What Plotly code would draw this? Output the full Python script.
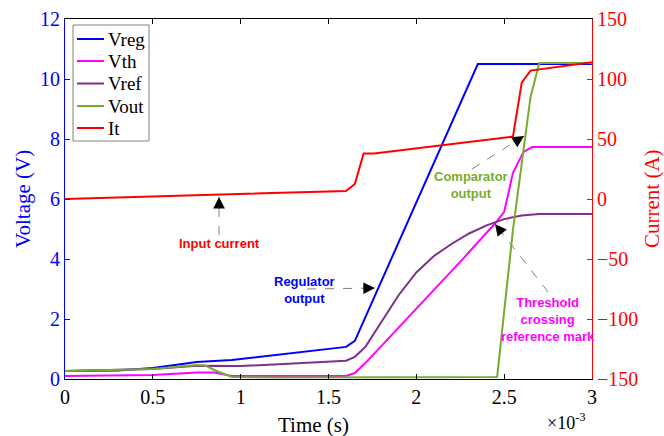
import plotly.graph_objects as go

# ---------------- data (time in ms, scaled to s) ----------------
t_vreg = [0, 0.3, 0.5, 0.65, 0.75, 0.95, 1.2, 1.4, 1.6, 1.65, 2.35, 3.0]
v_vreg = [0.27, 0.28, 0.37, 0.5, 0.57, 0.63, 0.8, 0.93, 1.07, 1.27, 10.5, 10.5]

t_vth = [0, 0.5, 0.75, 0.85, 0.95, 1.6, 1.65, 1.71, 2.26, 2.45, 2.5, 2.55, 2.61, 2.66, 3.0]
v_vth = [0.1, 0.13, 0.22, 0.22, 0.1, 0.1, 0.2, 0.53, 3.97, 5.2, 5.57, 6.87, 7.57, 7.73, 7.73]

t_vref = [0, 0.5, 0.75, 1.0, 1.6, 1.65, 1.71, 1.81, 1.9, 2.0, 2.1, 2.2, 2.3, 2.4, 2.5, 2.6, 2.7, 3.0]
v_vref = [0.27, 0.33, 0.44, 0.43, 0.61, 0.74, 1.07, 2.0, 2.8, 3.55, 4.1, 4.5, 4.85, 5.12, 5.33, 5.45, 5.5, 5.5]

t_vout = [0, 0.5, 0.75, 0.8, 0.85, 0.95, 1.2, 2.46, 2.55, 2.65, 2.7, 3.0]
v_vout = [0.27, 0.33, 0.47, 0.45, 0.3, 0.07, 0.05, 0.07, 4.97, 9.4, 10.53, 10.53]

t_it = [0, 1.6, 1.65, 1.70, 1.76, 2.55, 2.6, 2.65, 3.0]
i_it = [0, 6.7, 12.5, 38, 38, 52, 97, 107, 114]

x_ticks = [0, 0.5, 1, 1.5, 2, 2.5, 3]
x_tick_labels = ["0", "0.5", "1", "1.5", "2", "2.5", "3"]
v_ticks = [0, 2, 4, 6, 8, 10, 12]
i_ticks = [-150, -100, -50, 0, 50, 100, 150]

series_names = ["Vreg", "Vth", "Vref", "Vout", "It"]
series_colors = ["#0000FF", "#FF00FF", "#7E2F8E", "#77AC30", "#FF0000"]

# annotations: text, text pos (ms, V), tail (ms, V), head (ms, V), colour
notes = [
    ("Input current", (0.877, 4.53), (0.877, 4.8), (0.877, 6.07), "#FF0000"),
    ("Regulator<br>output", (1.366, 2.97), (1.378, 3.0), (1.765, 3.03), "#0000FF"),
    ("Comparator<br>output", (2.311, 6.47), (2.317, 7.0), (2.613, 8.1), "#77AC30"),
    ("Threshold<br>crossing<br>reference mark", (2.75, 2.0), (2.75, 2.9), (2.448, 5.17), "#FF00FF"),
]

S = 1e-3
def sec(ts):
    return [t * S for t in ts]

W, H = 664, 436
ML, MR, MT, MB = 65, 72, 19, 57
PW, PH = W - ML - MR, H - MT - MB

def px_x(p):
    return (p - ML) / PW

def px_y(p):
    return (H - MB - p) / PH

serif = "Liberation Serif, Times New Roman, serif"
sans = "Liberation Sans, Arial, sans-serif"

fig = go.Figure()
lw = 2
data = [(t_vreg, v_vreg, "y"), (t_vth, v_vth, "y"), (t_vref, v_vref, "y"),
        (t_vout, v_vout, "y"), (t_it, i_it, "y2")]
for (tt, vv, ax), name, col in zip(data, series_names, series_colors):
    fig.add_trace(go.Scatter(x=sec(tt), y=vv, name=name, mode="lines", yaxis=ax,
                             line=dict(color=col, width=lw)))

shapes = []
annotations = []
for text, tp, tail, head, col in notes:
    shapes.append(dict(type="line", xref="x", yref="y",
                       x0=tail[0] * S, y0=tail[1], x1=head[0] * S, y1=head[1],
                       line=dict(color="#808080", width=1, dash="dash")))
    dxp = (tail[0] - head[0]) / 3.0 * PW
    dyp = -(tail[1] - head[1]) / 12.0 * PH
    n = (dxp ** 2 + dyp ** 2) ** 0.5
    L = 12
    annotations.append(dict(x=head[0] * S, y=head[1], xref="x", yref="y",
                            ax=dxp / n * L, ay=dyp / n * L, text="",
                            showarrow=True, arrowhead=2, arrowsize=1.8,
                            arrowwidth=1.3, arrowcolor="black", standoff=0))
    annotations.append(dict(x=tp[0] * S, y=tp[1], xref="x", yref="y", text="<b>%s</b>" % text,
                            showarrow=False, font=dict(family=sans, size=13, color=col),
                            xanchor="center", yanchor="middle", align="center"))

# legend box (drawn to match the compact MATLAB-style legend)
shapes.append(dict(type="rect", xref="paper", yref="paper",
                   x0=px_x(73), x1=px_x(149), y0=px_y(141), y1=px_y(25),
                   line=dict(color="#808080", width=1), fillcolor="white", layer="above"))
leg_rows = [39, 61, 83.5, 106, 128]
for name, col, ry in zip(series_names, series_colors, leg_rows):
    shapes.append(dict(type="line", xref="paper", yref="paper",
                       x0=px_x(77), x1=px_x(104), y0=px_y(ry), y1=px_y(ry),
                       line=dict(color=col, width=2), layer="above"))
    annotations.append(dict(text=name, xref="paper", yref="paper", x=px_x(106), y=px_y(ry),
                            showarrow=False, xanchor="left", yanchor="middle",
                            font=dict(family=serif, size=19, color="black")))

annotations += [
    dict(text="Time (s)", xref="paper", yref="paper", x=px_x(313), y=px_y(425),
         showarrow=False, font=dict(family=serif, size=21, color="black"),
         xanchor="center", yanchor="middle"),
    dict(text="Voltage (V)", xref="paper", yref="paper", x=px_x(23), y=0.5,
         showarrow=False, textangle=-90, font=dict(family=serif, size=21, color="#0000FF"),
         xanchor="center", yanchor="middle"),
    dict(text="Current (A)", xref="paper", yref="paper", x=px_x(652), y=0.5,
         showarrow=False, textangle=-90, font=dict(family=serif, size=21, color="#FF0000"),
         xanchor="center", yanchor="middle"),
    dict(text="×10<sup>-3</sup>", xref="paper", yref="paper", x=px_x(566), y=px_y(435),
         showarrow=False, font=dict(family=serif, size=18, color="black"),
         xanchor="center", yanchor="bottom"),
]

fig.update_layout(
    width=W, height=H,
    margin=dict(l=ML, r=MR, t=MT, b=MB, autoexpand=False),
    plot_bgcolor="white", paper_bgcolor="white",
    showlegend=False,
    xaxis=dict(range=[0, 3 * S], tickvals=sec(x_ticks), ticktext=x_tick_labels,
               showgrid=False, zeroline=False, showline=True, linecolor="black", linewidth=1,
               mirror="ticks", ticks="inside", ticklen=5, tickcolor="black",
               tickfont=dict(family=serif, size=20, color="black")),
    yaxis=dict(range=[0, 12], tickvals=v_ticks, showgrid=False, zeroline=False,
               showline=True, linecolor="#0000FF", linewidth=1, ticks="inside", ticklen=5,
               tickcolor="#0000FF", tickfont=dict(family=serif, size=20, color="#0000FF")),
    yaxis2=dict(range=[-150, 150], tickvals=i_ticks, overlaying="y", side="right",
                showgrid=False, zeroline=False, showline=True, linecolor="#FF0000", linewidth=1,
                ticks="inside", ticklen=5, tickcolor="#FF0000",
                tickfont=dict(family=serif, size=20, color="#FF0000")),
    shapes=shapes,
    annotations=annotations,
)

fig.write_html("out.html", config={"displayModeBar": False},
               post_script="document.body.style.margin='0';")
